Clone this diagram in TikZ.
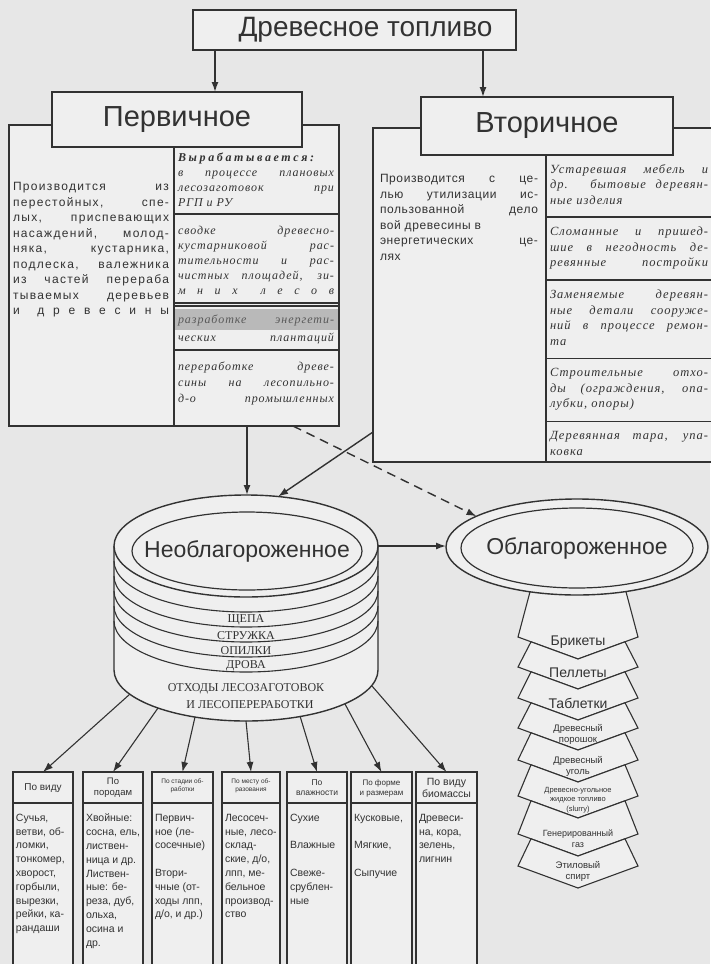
\documentclass[tikz,border=0pt]{standalone}
\usepackage{fontspec}
\setmainfont{Liberation Sans}
\newfontfamily\tms{Liberation Serif}
\newfontfamily\sfsp[LetterSpace=11]{Liberation Sans}
\newfontfamily\sfsq[LetterSpace=5]{Liberation Sans}
\newfontfamily\tmsp[LetterSpace=8]{Liberation Serif}
\newfontfamily\tmwide[LetterSpace=22]{Liberation Serif}
\usetikzlibrary{arrows.meta,shapes.geometric}
\definecolor{bg}{RGB}{231,231,231}
\definecolor{boxfill}{RGB}{239,239,239}
\definecolor{ink}{RGB}{50,50,50}
\newcommand{\jl}[2]{\makebox[#1][s]{#2}}
\begin{document}
\begin{tikzpicture}[x=1pt,y=1pt,
  every node/.style={inner sep=0pt,outer sep=0pt,text=ink},
  tbox/.style={draw=ink,line width=2.4pt,fill=boxfill},
  frame/.style={draw=ink,line width=2pt,fill=boxfill},
  cell/.style={draw=ink,line width=1.2pt},
  arr/.style={draw=ink,line width=1.4pt,-{Latex[length=10pt,width=7pt]}},
  bbox/.style={draw=ink,line width=1.2pt,fill=boxfill,minimum height=200pt,anchor=north},
  chev/.style={draw=ink,line width=1.1pt,fill=boxfill},
  cyl/.style={draw=ink,line width=1.4pt},
  ltext/.style={anchor=north west,align=left},
  lfit/.style={font=\tmsp\itshape\fontsize{12}{15}\selectfont},
  rfit/.style={font=\tmsp\itshape\fontsize{12.5}{15.5}\selectfont},
  btext/.style={anchor=north west,align=left,font=\fontsize{10.5}{13.8}\selectfont},
]
\fill[bg] (0,0) rectangle (710,-964);
\useasboundingbox (0,0) rectangle (710,-964);

% ---------- title ----------
\node[tbox,minimum width=323pt,minimum height=40pt,font=\fontsize{28}{30}\selectfont] (title) at (354.5,-30) {\hspace*{22pt}Древесное топливо};

% ---------- frames ----------
\node[frame,minimum width=330pt,minimum height=301pt] (lf) at (174,-275.5) {};
\node[frame,minimum width=346pt,minimum height=334pt] (rf) at (546,-295) {};

\node[tbox,minimum width=250pt,minimum height=55pt,font=\fontsize{29}{31}\selectfont] (perv) at (177,-119.5) {Первичное};
\node[tbox,minimum width=252pt,minimum height=58pt,font=\fontsize{29}{31}\selectfont] (vtor) at (547,-126) {Вторичное};

\coordinate (ta) at (215,-50);
\coordinate (tb) at (483,-50);
\draw[arr] (ta) -- (ta |- perv.north);
\draw[arr] (tb) -- (tb |- vtor.north);

% dividers
\draw[cell,line width=1.6pt] (perv.south -| lf.center) -- (lf.south);
\draw[cell,line width=1.6pt] (vtor.south -| rf.center) -- (rf.south);

% ---------- left frame ----------
\node[ltext,font=\sfsp\fontsize{12}{15.5}\selectfont] (ltx) at (13,-182.5) {%
\jl{156pt}{Производится из}\\
\jl{156pt}{перестойных, спе-}\\
\jl{156pt}{лых, приспевающих}\\
\jl{156pt}{насаждений, молод-}\\
\jl{156pt}{няка, кустарника,}\\
\jl{156pt}{подлеска, валежника}\\
\jl{156pt}{из частей перераба}\\
\jl{156pt}{тываемых деревьев}\\
\makebox[156pt][s]{и\hfill\hfill д\hfill р\hfill е\hfill в\hfill е\hfill с\hfill и\hfill н\hfill ы}};

\draw[cell] (174,-214) -- (339,-214);
\draw[cell] (174,-303) -- (339,-303);
\draw[cell] (174,-306) -- (339,-306);
\fill[gray!55] (175,-309) rectangle (338,-330);
\draw[cell] (174,-350) -- (339,-350);

\node[ltext,lfit] (lc1) at (178,-152.5) {%
\makebox[156pt][s]{\tmwide\bfseries\itshape Вырабатывается:}\\
\jl{156pt}{в процессе плановых}\\
\jl{156pt}{лесозаготовок при}\\
РГП и РУ};
\node[ltext,lfit] (lc2) at (178,-226.5) {%
\jl{156pt}{сводке древесно-}\\
\jl{156pt}{кустарниковой рас-}\\
\jl{156pt}{тительности и рас-}\\
\jl{156pt}{чистных площадей, зи-}\\
\makebox[156pt][s]{м\hfill н\hfill и\hfill х\hfill\hfill л\hfill е\hfill с\hfill о\hfill в}};
\node[ltext,lfit,text=gray!70!black] (lc3) at (178,-314.5) {\jl{156pt}{разработке энергети-}};
\node[ltext,lfit] (lc3b) at (178,-332.5) {\jl{156pt}{ческих плантаций}};
\node[ltext,lfit,font=\tmsp\itshape\fontsize{12}{16}\selectfont] (lc4) at (178,-361.5) {%
\jl{156pt}{переработке древе-}\\
\jl{156pt}{сины на лесопильно-}\\
\jl{156pt}{д-о промышленных}};

% ---------- right frame ----------
\node[ltext,font=\sfsq\fontsize{12}{15.5}\selectfont] (rtx) at (380,-174.5) {%
\jl{158pt}{Производится с це-}\\
\jl{158pt}{лью утилизации ис-}\\
\jl{158pt}{пользованной дело}\\
вой древесины в\\
\jl{158pt}{энергетических це-}\\
лях};

\draw[cell] (546,-217) -- (715,-217);
\draw[cell] (546,-280) -- (715,-280);
\draw[cell] (546,-358.5) -- (715,-358.5);
\draw[cell] (546,-421.5) -- (715,-421.5);

\node[ltext,rfit] (rc1) at (550,-164.2) {%
\jl{158pt}{Устаревшая мебель и}\\
\jl{158pt}{др. бытовые деревян-}\\
ные изделия};
\node[ltext,rfit] (rc2) at (550,-227.2) {%
\jl{158pt}{Сломанные и пришед-}\\
\jl{158pt}{шие в негодность де-}\\
\jl{158pt}{ревянные постройки}};
\node[ltext,rfit] (rc3) at (550,-290.2) {%
\jl{158pt}{Заменяемые деревян-}\\
\jl{158pt}{ные детали сооруже-}\\
\jl{158pt}{ний в процессе ремон-}\\
та};
\node[ltext,rfit] (rc4) at (550,-368.7) {%
\jl{158pt}{Строительные отхо-}\\
\jl{158pt}{ды (ограждения, опа-}\\
лубки, опоры)};
\node[ltext,rfit] (rc5) at (550,-431.7) {%
\jl{158pt}{Деревянная тара, упа-}\\
ковка};

% ---------- cylinder ----------
\fill[boxfill] (114,-546) -- (114,-670) arc[start angle=180,end angle=360,x radius=132pt,y radius=51pt] -- (378,-546) -- cycle;
\draw[cyl] (114,-546) -- (114,-670) arc[start angle=180,end angle=360,x radius=132pt,y radius=51pt] -- (378,-546);
\foreach \k in {1,...,5}
  \draw[cyl,line width=1.1pt] (114,{-546-15*\k}) arc[start angle=180,end angle=360,x radius=132pt,y radius=51pt];
\node[cyl,ellipse,fill=boxfill,minimum width=264pt,minimum height=102pt] (cyl) at (246,-546) {};
\node[cyl,ellipse,line width=1.2pt,minimum width=230pt,minimum height=78pt] (neob) at (247,-551) {};
\node[font=\fontsize{23}{25}\selectfont] (neobt) at (neob.center) {Необлагороженное};

\node[font=\tms\fontsize{12}{13}\selectfont] (w1) at (246,-620) {ЩЕПА};
\node[font=\tms\fontsize{12}{13}\selectfont] (w2) at (246,-635.5) {СТРУЖКА};
\node[font=\tms\fontsize{12}{13}\selectfont] (w3) at (246,-651) {ОПИЛКИ};
\node[font=\tms\fontsize{12}{13}\selectfont] (w4) at (246,-666) {ДРОВА};
\node[font=\tms\fontsize{12}{13}\selectfont] (w5) at (246,-689) {ОТХОДЫ ЛЕСОЗАГОТОВОК};
\node[font=\tms\fontsize{12}{13}\selectfont] (w6) at (250,-705) {И ЛЕСОПЕРЕРАБОТКИ};

% ---------- chevrons ----------
\draw[chev] (531,-588) -- (625,-588) -- (638,-637) -- (578,-659) -- (518,-637) -- cycle;
\draw[chev] (531,-641.8) -- (578,-659) -- (625,-641.8) -- (638,-667) -- (578,-689) -- (518,-667) -- cycle;
\draw[chev] (531,-671.8) -- (578,-689) -- (625,-671.8) -- (638,-698) -- (578,-720) -- (518,-698) -- cycle;
\draw[chev] (531,-702.8) -- (578,-720) -- (625,-702.8) -- (638,-728) -- (578,-750) -- (518,-728) -- cycle;
\draw[chev] (531,-732.8) -- (578,-750) -- (625,-732.8) -- (638,-760) -- (578,-782) -- (518,-760) -- cycle;
\draw[chev] (531,-764.8) -- (578,-782) -- (625,-764.8) -- (638,-796) -- (578,-818) -- (518,-796) -- cycle;
\draw[chev] (531,-800.8) -- (578,-818) -- (625,-800.8) -- (638,-834) -- (578,-856) -- (518,-834) -- cycle;
\draw[chev] (531,-838.8) -- (578,-856) -- (625,-838.8) -- (638,-866) -- (578,-888) -- (518,-866) -- cycle;

\node[font=\fontsize{14}{15}\selectfont] (ch1) at (578,-642) {Брикеты};
\node[font=\fontsize{14}{15}\selectfont] (ch2) at (578,-673) {Пеллеты};
\node[font=\fontsize{14}{15}\selectfont] (ch3) at (578,-703) {Таблетки};
\node[align=center,font=\fontsize{9.5}{11}\selectfont] (ch4) at (578,-734) {Древесный\\порошок};
\node[align=center,font=\fontsize{9.5}{11}\selectfont] (ch5) at (578,-766) {Древесный\\уголь};
\node[align=center,font=\fontsize{7.5}{9.5}\selectfont] (ch6) at (578,-800) {Древесно-угольное\\жидкое топливо\\(slurry)};
\node[align=center,font=\fontsize{9}{11}\selectfont] (ch7) at (578,-839) {Генерированный\\газ};
\node[align=center,font=\fontsize{9.5}{11}\selectfont] (ch8) at (578,-871) {Этиловый\\спирт};

% ---------- oblagorozhennoe ----------
\node[cyl,ellipse,fill=boxfill,minimum width=262pt,minimum height=96pt] (oblo) at (577,-547) {};
\node[cyl,ellipse,line width=1.2pt,minimum width=232pt,minimum height=80pt] (obli) at (577,-548) {};
\node[font=\fontsize{23}{25}\selectfont] (oblt) at (obli.center) {Облагороженное};

% ---------- connectors ----------
\draw[arr] (cyl.east) -- (cyl.east -| oblo.west);
\coordinate (lfb) at (247,-426);
\draw[arr] (lfb) -- (lfb |- cyl.north);
\coordinate (rfa) at (373,-432);
\draw[arr] (rfa) -- (cyl.57);
\coordinate (dsh) at (293,-426);
\draw[arr,dash pattern=on 9pt off 6pt] (dsh) -- (oblo.163);

% ---------- bottom boxes ----------
\node[bbox,minimum width=60pt] (b1) at (43,-772) {};
\node[bbox,minimum width=60pt] (b2) at (113,-772) {};
\node[bbox,minimum width=61pt] (b3) at (182.5,-772) {};
\node[bbox,minimum width=58pt] (b4) at (251,-772) {};
\node[bbox,minimum width=60pt] (b5) at (317,-772) {};
\node[bbox,minimum width=61pt] (b6) at (381.5,-772) {};
\node[bbox,minimum width=61pt] (b7) at (446.5,-772) {};
\coordinate (hl) at (0,-803);
\foreach \b in {b1,b2,b3,b4,b5,b6,b7}
  \draw[cell] (\b.north west |- hl) -- (\b.north east |- hl);

\node[font=\fontsize{10}{11}\selectfont] (h1) at (43,-788) {По виду};
\node[align=center,font=\fontsize{9.5}{11}\selectfont] (h2) at (113,-788) {По\\породам};
\node[align=center,font=\fontsize{6.5}{8}\selectfont] (h3) at (182.5,-786) {По стадии об-\\работки};
\node[align=center,font=\fontsize{6.5}{8}\selectfont] (h4) at (251,-786) {По месту об-\\разования};
\node[align=center,font=\fontsize{8.5}{10}\selectfont] (h5) at (317,-788) {По\\влажности};
\node[align=center,font=\fontsize{8}{10}\selectfont] (h6) at (381.5,-788) {По форме\\и размерам};
\node[align=center,font=\fontsize{10.5}{12}\selectfont] (h7) at (446.5,-788) {По виду\\биомассы};

\node[btext] (t1) at (16,-814) {Сучья,\\ветви, об-\\ломки,\\тонкомер,\\хворост,\\горбыли,\\вырезки,\\рейки, ка-\\рандаши};
\node[btext] (t2) at (86,-814) {Хвойные:\\сосна, ель,\\листвен-\\ница и др.\\Листвен-\\ные: бе-\\реза, дуб,\\ольха,\\осина и\\др.};
\node[btext] (t3) at (155,-814) {Первич-\\ное (ле-\\сосечные)\\[13.8pt]Втори-\\чные (от-\\ходы лпп,\\д/о, и др.)};
\node[btext] (t4) at (225,-814) {Лесосеч-\\ные, лесо-\\склад-\\ские, д/о,\\лпп, ме-\\бельное\\производ-\\ство};
\node[btext] (t5) at (290,-814) {Сухие\\[13.8pt]Влажные\\[13.8pt]Свеже-\\срублен-\\ные};
\node[btext] (t6) at (354,-814) {Кусковые,\\[13.8pt]Мягкие,\\[13.8pt]Сыпучие};
\node[btext] (t7) at (419,-814) {Древеси-\\на, кора,\\зелень,\\лигнин};

% fan connectors
\coordinate (f1) at (130,-694);
\coordinate (f2) at (158,-708);
\coordinate (f3) at (195,-717);
\coordinate (f4) at (246,-721);
\coordinate (f5) at (300,-716);
\coordinate (f6) at (345,-704);
\coordinate (f7) at (372,-686);
\draw[arr,line width=1.1pt] (f1) -- (b1.north);
\draw[arr,line width=1.1pt] (f2) -- (b2.north);
\draw[arr,line width=1.1pt] (f3) -- (b3.north);
\draw[arr,line width=1.1pt] (f4) -- (b4.north);
\draw[arr,line width=1.1pt] (f5) -- (b5.north);
\draw[arr,line width=1.1pt] (f6) -- (b6.north);
\draw[arr,line width=1.1pt] (f7) -- (b7.north);
\end{tikzpicture}
\end{document}
